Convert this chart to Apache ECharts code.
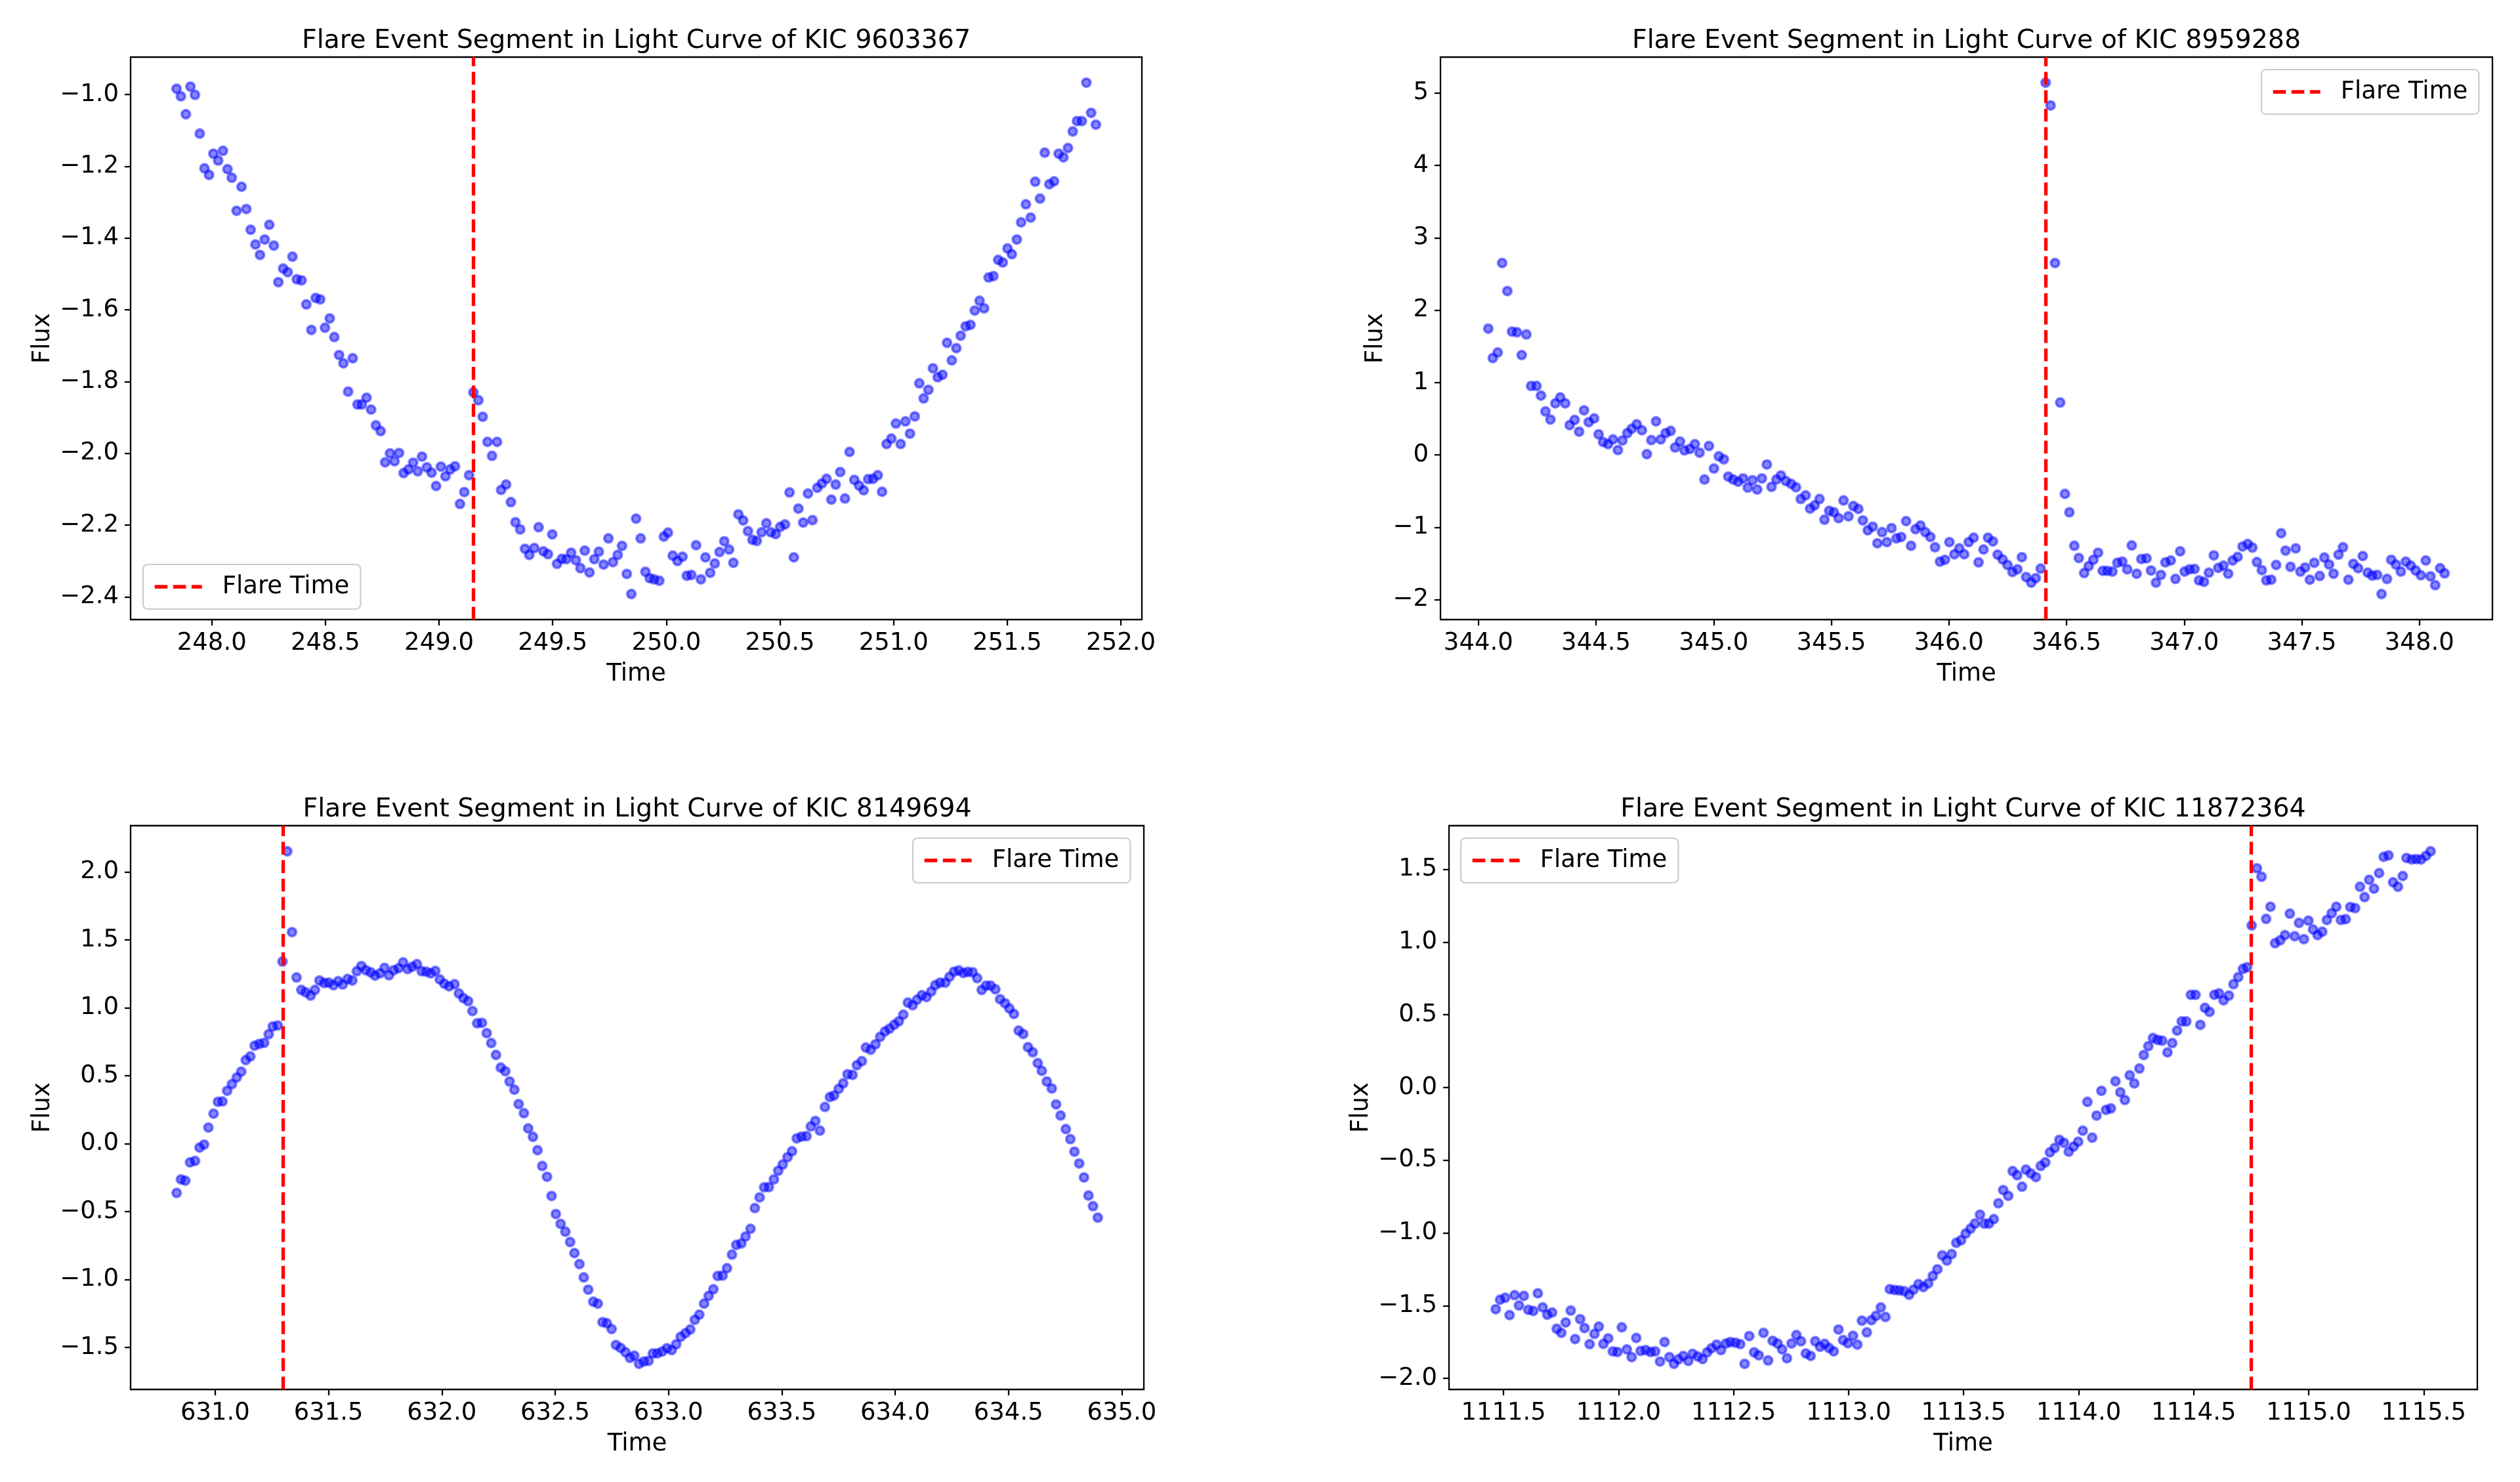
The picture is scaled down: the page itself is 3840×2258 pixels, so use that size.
<!DOCTYPE html>
<html>
<head>
<meta charset="utf-8">
<script src="https://cdn.jsdelivr.net/npm/echarts@6/dist/echarts.min.js"></script>
<style>
html,body{margin:0;padding:0;background:#fff;}
#chart{width:3840px;height:2258px;}
</style>
</head>
<body>
<div id="chart"></div>
<script>
// ---------------- DATA (time, flux) ----------------
const kic9603367 = [
[247.845,-0.984],[247.864,-1.005],[247.886,-1.055],[247.906,-0.978],[247.926,-1.001],[247.947,-1.109],[247.968,-1.206],[247.988,-1.224],[248.007,-1.165],[248.028,-1.184],[248.049,-1.157],[248.069,-1.208],[248.088,-1.232],[248.109,-1.324],[248.131,-1.257],[248.152,-1.319],[248.171,-1.377],[248.192,-1.418],[248.212,-1.447],[248.233,-1.404],[248.253,-1.363],[248.273,-1.421],[248.293,-1.523],[248.314,-1.485],[248.334,-1.495],[248.355,-1.452],[248.374,-1.515],[248.395,-1.518],[248.416,-1.585],[248.438,-1.656],[248.457,-1.567],[248.477,-1.571],[248.498,-1.650],[248.519,-1.624],[248.539,-1.676],[248.560,-1.726],[248.579,-1.749],[248.600,-1.828],[248.620,-1.735],[248.641,-1.864],[248.660,-1.864],[248.681,-1.845],[248.701,-1.878],[248.722,-1.922],[248.743,-1.938],[248.763,-2.025],[248.784,-2.000],[248.804,-2.022],[248.824,-1.999],[248.844,-2.055],[248.865,-2.045],[248.886,-2.026],[248.906,-2.050],[248.925,-2.009],[248.946,-2.039],[248.967,-2.054],[248.987,-2.091],[249.008,-2.037],[249.028,-2.064],[249.049,-2.045],[249.070,-2.036],[249.092,-2.141],[249.111,-2.108],[249.132,-2.061],[249.151,-1.830],[249.173,-1.852],[249.192,-1.898],[249.213,-1.968],[249.233,-2.007],[249.255,-1.968],[249.273,-2.102],[249.295,-2.087],[249.316,-2.136],[249.336,-2.192],[249.357,-2.212],[249.378,-2.266],[249.397,-2.283],[249.419,-2.264],[249.438,-2.206],[249.459,-2.273],[249.479,-2.281],[249.498,-2.226],[249.519,-2.308],[249.540,-2.294],[249.560,-2.295],[249.581,-2.277],[249.602,-2.298],[249.622,-2.320],[249.641,-2.271],[249.662,-2.332],[249.683,-2.295],[249.703,-2.274],[249.724,-2.310],[249.745,-2.237],[249.765,-2.303],[249.786,-2.283],[249.805,-2.258],[249.826,-2.336],[249.846,-2.392],[249.867,-2.182],[249.887,-2.237],[249.908,-2.330],[249.927,-2.348],[249.946,-2.351],
[249.969,-2.355],[249.989,-2.232],[250.007,-2.221],[250.028,-2.285],[250.049,-2.300],[250.071,-2.288],[250.090,-2.341],[250.110,-2.339],[250.131,-2.256],[250.152,-2.351],[250.172,-2.290],[250.193,-2.333],[250.213,-2.307],[250.234,-2.275],[250.255,-2.245],[250.276,-2.268],[250.295,-2.305],[250.317,-2.170],[250.338,-2.187],[250.359,-2.217],[250.379,-2.241],[250.398,-2.244],[250.419,-2.220],[250.440,-2.195],[250.460,-2.220],[250.481,-2.225],[250.501,-2.205],[250.522,-2.198],[250.542,-2.109],[250.561,-2.290],[250.581,-2.154],[250.602,-2.193],[250.623,-2.112],[250.643,-2.186],[250.664,-2.096],[250.684,-2.084],[250.705,-2.071],[250.726,-2.129],[250.745,-2.087],[250.765,-2.052],[250.786,-2.126],[250.806,-1.996],[250.827,-2.074],[250.848,-2.090],[250.868,-2.103],[250.888,-2.072],[250.909,-2.071],[250.930,-2.061],[250.949,-2.107],[250.969,-1.974],[250.990,-1.959],[251.010,-1.917],[251.031,-1.974],[251.052,-1.911],[251.072,-1.945],[251.093,-1.897],[251.113,-1.805],[251.132,-1.847],[251.153,-1.823],[251.173,-1.763],[251.194,-1.788],[251.215,-1.781],[251.235,-1.692],[251.256,-1.741],[251.276,-1.707],[251.295,-1.672],[251.317,-1.646],[251.338,-1.642],[251.357,-1.602],[251.378,-1.575],[251.398,-1.596],[251.418,-1.510],[251.439,-1.506],[251.460,-1.461],[251.480,-1.468],[251.501,-1.429],[251.520,-1.445],[251.542,-1.404],[251.561,-1.356],[251.582,-1.306],[251.603,-1.343],[251.623,-1.243],[251.644,-1.290],[251.665,-1.162],[251.685,-1.250],[251.706,-1.242],[251.726,-1.165],[251.747,-1.175],[251.767,-1.149],[251.788,-1.103],[251.807,-1.074],[251.828,-1.074],[251.848,-0.967],[251.869,-1.051],[251.890,-1.084]
];

const kic8959288 = [
[344.042,1.746],[344.061,1.339],[344.082,1.416],[344.101,2.652],[344.123,2.265],[344.143,1.705],[344.164,1.695],[344.184,1.380],[344.204,1.665],[344.224,0.953],[344.247,0.953],[344.266,0.820],[344.285,0.602],[344.306,0.490],[344.327,0.714],[344.348,0.795],[344.369,0.714],[344.388,0.413],[344.409,0.485],[344.428,0.322],[344.449,0.617],[344.469,0.454],[344.492,0.505],[344.511,0.286],[344.530,0.179],[344.551,0.149],[344.572,0.215],[344.593,0.068],[344.612,0.200],[344.633,0.302],[344.652,0.363],[344.673,0.424],[344.695,0.342],[344.716,0.012],[344.735,0.205],[344.755,0.464],[344.775,0.215],[344.796,0.302],[344.817,0.332],[344.836,0.103],[344.857,0.185],[344.876,0.063],[344.899,0.083],[344.920,0.149],[344.940,0.032],[344.961,-0.339],[344.980,0.124],[345.001,-0.187],[345.022,-0.019],[345.043,-0.060],[345.062,-0.299],[345.083,-0.339],[345.104,-0.370],[345.125,-0.324],[345.145,-0.451],[345.165,-0.349],[345.185,-0.477],[345.205,-0.324],[345.226,-0.131],[345.246,-0.441],[345.267,-0.339],[345.286,-0.283],[345.307,-0.360],[345.330,-0.400],[345.350,-0.446],[345.370,-0.609],[345.391,-0.558],[345.410,-0.741],[345.429,-0.696],[345.450,-0.609],[345.471,-0.894],[345.491,-0.772],[345.511,-0.792],[345.531,-0.873],[345.552,-0.629],[345.573,-0.848],[345.594,-0.706],[345.615,-0.746],[345.634,-0.904],[345.655,-1.041],[345.676,-0.990],[345.696,-1.219],[345.716,-1.067],[345.736,-1.204],[345.756,-1.011],[345.777,-1.153],[345.797,-1.133],[345.818,-0.914],[345.839,-1.255],[345.858,-1.026],[345.879,-0.975],[345.900,-1.067],[345.921,-1.133],[345.941,-1.275],[345.962,-1.474],[345.983,-1.448],[346.002,-1.204],[346.023,-1.372],[346.044,-1.290],[346.065,-1.372],[346.084,-1.204],[346.105,-1.143],[346.126,-1.484],[346.147,-1.306],[346.166,-1.143],[346.187,-1.194],[346.207,-1.377],[346.228,-1.443],[346.249,-1.520],[346.270,-1.616],[346.291,-1.580],[346.310,-1.412],[346.328,-1.687],
[346.350,-1.764],[346.369,-1.702],[346.390,-1.570],[346.411,5.144],[346.432,4.829],[346.451,2.652],[346.473,0.724],[346.493,-0.538],[346.512,-0.792],[346.533,-1.255],[346.552,-1.423],[346.575,-1.631],[346.594,-1.535],[346.614,-1.448],[346.634,-1.351],[346.654,-1.601],[346.673,-1.601],[346.695,-1.611],[346.716,-1.489],[346.737,-1.474],[346.758,-1.580],[346.777,-1.250],[346.798,-1.641],[346.818,-1.438],[346.840,-1.428],[346.859,-1.596],[346.880,-1.764],[346.901,-1.657],[346.920,-1.484],[346.943,-1.458],[346.963,-1.713],[346.983,-1.331],[347.002,-1.611],[347.023,-1.580],[347.044,-1.575],[347.063,-1.733],[347.084,-1.753],[347.105,-1.626],[347.126,-1.387],[347.145,-1.560],[347.167,-1.529],[347.187,-1.641],[347.206,-1.458],[347.227,-1.408],[347.248,-1.265],[347.270,-1.229],[347.290,-1.280],[347.309,-1.479],[347.330,-1.591],[347.349,-1.733],[347.370,-1.723],[347.391,-1.519],[347.412,-1.082],[347.431,-1.321],[347.452,-1.545],[347.474,-1.290],[347.494,-1.611],[347.514,-1.555],[347.534,-1.723],[347.553,-1.489],[347.576,-1.672],[347.596,-1.418],[347.616,-1.514],[347.635,-1.641],[347.656,-1.377],[347.675,-1.275],[347.698,-1.723],[347.719,-1.504],[347.739,-1.565],[347.759,-1.397],[347.780,-1.626],[347.799,-1.667],[347.820,-1.657],[347.839,-1.921],[347.862,-1.713],[347.880,-1.448],[347.900,-1.514],[347.921,-1.611],[347.942,-1.474],[347.963,-1.529],[347.984,-1.596],[348.006,-1.662],[348.027,-1.458],[348.047,-1.677],[348.067,-1.799],[348.088,-1.565],[348.107,-1.636]
];

const kic8149694 = [
[630.830,-0.363],[630.849,-0.263],[630.868,-0.273],[630.889,-0.138],[630.911,-0.127],[630.931,-0.029],[630.951,-0.007],[630.970,0.118],[630.993,0.221],[631.012,0.308],[631.032,0.310],[631.053,0.389],[631.074,0.438],[631.095,0.487],[631.115,0.530],[631.135,0.615],[631.155,0.642],[631.174,0.721],[631.195,0.734],[631.216,0.742],[631.236,0.805],[631.254,0.862],[631.276,0.870],[631.297,1.340],[631.318,2.152],[631.339,1.557],[631.359,1.223],[631.380,1.131],[631.399,1.114],[631.421,1.090],[631.440,1.131],[631.460,1.201],[631.481,1.182],[631.501,1.185],[631.522,1.166],[631.543,1.196],[631.563,1.171],[631.584,1.212],[631.605,1.201],[631.625,1.269],[631.645,1.307],[631.665,1.277],[631.686,1.261],[631.705,1.237],[631.727,1.253],[631.747,1.294],[631.767,1.239],[631.788,1.277],[631.809,1.291],[631.829,1.334],[631.849,1.285],[631.869,1.302],[631.890,1.321],[631.911,1.269],[631.931,1.266],[631.951,1.253],[631.971,1.272],[631.991,1.209],[632.011,1.177],[632.032,1.158],[632.056,1.174],[632.075,1.106],[632.095,1.071],[632.116,1.049],[632.135,0.976],[632.156,0.886],[632.177,0.889],[632.198,0.813],[632.218,0.740],[632.239,0.653],[632.260,0.560],[632.280,0.533],[632.299,0.457],[632.320,0.397],[632.339,0.291],[632.362,0.224],[632.381,0.112],[632.402,0.050],[632.422,-0.048],[632.443,-0.165],[632.464,-0.244],[632.484,-0.385],[632.503,-0.518],[632.524,-0.591],[632.545,-0.648],[632.566,-0.724],[632.585,-0.806],[632.607,-0.887],[632.626,-0.985],[632.646,-1.075],[632.668,-1.164],[632.688,-1.178],[632.709,-1.314],[632.728,-1.322],[632.749,-1.365],[632.768,-1.482],[632.789,-1.504],[632.810,-1.536],[632.830,-1.577],[632.849,-1.561],[632.870,-1.621],[632.891,-1.604],[632.912,-1.599],[632.931,-1.545],
[632.951,-1.544],[632.972,-1.531],[632.993,-1.506],[633.014,-1.520],[633.034,-1.477],[633.054,-1.422],[633.075,-1.395],[633.096,-1.368],[633.116,-1.297],[633.136,-1.259],[633.157,-1.178],[633.177,-1.121],[633.198,-1.072],[633.217,-0.974],[633.239,-0.971],[633.258,-0.917],[633.280,-0.817],[633.299,-0.746],[633.321,-0.735],[633.340,-0.684],[633.362,-0.627],[633.381,-0.474],[633.402,-0.396],[633.422,-0.322],[633.443,-0.320],[633.465,-0.263],[633.484,-0.200],[633.504,-0.154],[633.525,-0.100],[633.545,-0.056],[633.566,0.039],[633.587,0.052],[633.609,0.055],[633.628,0.126],[633.648,0.167],[633.668,0.096],[633.690,0.270],[633.712,0.343],[633.730,0.354],[633.751,0.403],[633.771,0.444],[633.790,0.511],[633.812,0.506],[633.831,0.577],[633.853,0.607],[633.871,0.707],[633.892,0.691],[633.913,0.731],[633.934,0.786],[633.955,0.826],[633.975,0.846],[633.996,0.875],[634.016,0.900],[634.036,0.949],[634.056,1.038],[634.077,1.019],[634.097,1.060],[634.118,1.093],[634.138,1.079],[634.159,1.120],[634.177,1.166],[634.198,1.185],[634.221,1.185],[634.240,1.228],[634.260,1.266],[634.281,1.275],[634.301,1.256],[634.321,1.264],[634.342,1.261],[634.362,1.218],[634.382,1.131],[634.401,1.163],[634.421,1.163],[634.442,1.136],[634.463,1.063],[634.485,1.033],[634.504,0.995],[634.524,0.954],[634.545,0.832],[634.565,0.807],[634.586,0.710],[634.607,0.672],[634.629,0.593],[634.647,0.536],[634.669,0.457],[634.691,0.406],[634.710,0.289],[634.730,0.207],[634.753,0.107],[634.773,0.033],[634.791,-0.059],[634.812,-0.146],[634.833,-0.249],[634.853,-0.382],[634.873,-0.461],[634.894,-0.545]
];

const kic11872364 = [
[1111.466,-1.524],[1111.485,-1.459],[1111.507,-1.446],[1111.526,-1.565],[1111.548,-1.428],[1111.567,-1.499],[1111.588,-1.433],[1111.608,-1.529],[1111.629,-1.537],[1111.649,-1.415],[1111.670,-1.512],[1111.690,-1.562],[1111.711,-1.547],[1111.731,-1.659],[1111.751,-1.687],[1111.770,-1.616],[1111.792,-1.534],[1111.811,-1.730],[1111.833,-1.593],[1111.852,-1.654],[1111.874,-1.765],[1111.895,-1.694],[1111.914,-1.644],[1111.934,-1.763],[1111.955,-1.725],[1111.975,-1.814],[1111.995,-1.819],[1112.014,-1.649],[1112.036,-1.801],[1112.057,-1.854],[1112.077,-1.722],[1112.096,-1.811],[1112.118,-1.806],[1112.139,-1.819],[1112.159,-1.814],[1112.180,-1.884],[1112.200,-1.750],[1112.221,-1.854],[1112.241,-1.900],[1112.260,-1.869],[1112.281,-1.846],[1112.303,-1.880],[1112.322,-1.831],[1112.344,-1.849],[1112.365,-1.867],[1112.385,-1.821],[1112.404,-1.793],[1112.426,-1.768],[1112.445,-1.806],[1112.467,-1.760],[1112.486,-1.750],[1112.508,-1.755],[1112.529,-1.765],[1112.548,-1.900],[1112.568,-1.709],[1112.589,-1.821],[1112.609,-1.841],[1112.630,-1.687],[1112.650,-1.877],[1112.670,-1.742],[1112.691,-1.760],[1112.711,-1.801],[1112.732,-1.862],[1112.752,-1.760],[1112.773,-1.702],[1112.793,-1.745],[1112.814,-1.829],[1112.835,-1.846],[1112.855,-1.745],[1112.876,-1.783],[1112.896,-1.763],[1112.915,-1.791],[1112.935,-1.814],[1112.956,-1.664],[1112.976,-1.737],[1112.997,-1.758],[1113.019,-1.707],[1113.038,-1.768],[1113.058,-1.603],[1113.079,-1.684],[1113.099,-1.600],[1113.119,-1.570],[1113.140,-1.512],[1113.160,-1.578],[1113.179,-1.387],[1113.200,-1.392],[1113.220,-1.395],[1113.241,-1.400],[1113.263,-1.425],[1113.282,-1.390],[1113.304,-1.352],[1113.325,-1.372],[1113.346,-1.347],[1113.366,-1.296],[1113.386,-1.250],[1113.407,-1.154],[1113.427,-1.190],[1113.448,-1.146],[1113.468,-1.068],[1113.489,-1.050],[1113.509,-1.004],[1113.530,-0.971],[1113.549,-0.936],[1113.571,-0.875],[1113.590,-0.936],[1113.610,-0.936],[1113.631,-0.905],[1113.651,-0.796],[1113.672,-0.705],[1113.694,-0.745],[1113.713,-0.575],[1113.733,-0.603],[1113.754,-0.682],[1113.771,-0.565],
[1113.792,-0.591],[1113.814,-0.616],[1113.835,-0.540],[1113.855,-0.515],[1113.875,-0.446],[1113.896,-0.416],[1113.916,-0.360],[1113.936,-0.380],[1113.957,-0.441],[1113.978,-0.406],[1113.998,-0.373],[1114.018,-0.297],[1114.038,-0.099],[1114.059,-0.345],[1114.078,-0.193],[1114.099,-0.023],[1114.119,-0.154],[1114.140,-0.144],[1114.160,0.043],[1114.181,-0.033],[1114.201,-0.086],[1114.222,0.084],[1114.242,0.028],[1114.264,0.130],[1114.283,0.223],[1114.303,0.284],[1114.323,0.340],[1114.343,0.327],[1114.363,0.322],[1114.386,0.241],[1114.407,0.305],[1114.428,0.391],[1114.448,0.454],[1114.468,0.454],[1114.488,0.637],[1114.508,0.637],[1114.529,0.431],[1114.549,0.548],[1114.569,0.520],[1114.590,0.637],[1114.610,0.647],[1114.630,0.599],[1114.653,0.632],[1114.673,0.710],[1114.694,0.759],[1114.714,0.815],[1114.732,0.827],[1114.752,1.114],[1114.775,1.507],[1114.795,1.449],[1114.815,1.159],[1114.834,1.243],[1114.854,0.992],[1114.876,1.012],[1114.897,1.048],[1114.918,1.195],[1114.939,1.040],[1114.958,1.132],[1114.979,1.020],[1114.999,1.147],[1115.019,1.086],[1115.039,1.048],[1115.059,1.071],[1115.079,1.152],[1115.100,1.198],[1115.120,1.243],[1115.140,1.152],[1115.161,1.157],[1115.181,1.241],[1115.202,1.233],[1115.223,1.380],[1115.243,1.309],[1115.263,1.428],[1115.284,1.367],[1115.306,1.474],[1115.326,1.586],[1115.347,1.596],[1115.367,1.411],[1115.388,1.380],[1115.409,1.454],[1115.425,1.578],[1115.448,1.568],[1115.468,1.570],[1115.489,1.568],[1115.510,1.593],[1115.530,1.624]
];

const flareTimes = [249.151, 346.411, 631.297, 1114.752];
const starNames = ['KIC 9603367', 'KIC 8959288', 'KIC 8149694', 'KIC 11872364'];

const xTicks1 = [248.0, 248.5, 249.0, 249.5, 250.0, 250.5, 251.0, 251.5, 252.0];
const yTicks1 = [-2.4, -2.2, -2.0, -1.8, -1.6, -1.4, -1.2, -1.0];
const xTicks2 = [344.0, 344.5, 345.0, 345.5, 346.0, 346.5, 347.0, 347.5, 348.0];
const yTicks2 = [-2, -1, 0, 1, 2, 3, 4, 5];
const xTicks3 = [631.0, 631.5, 632.0, 632.5, 633.0, 633.5, 634.0, 634.5, 635.0];
const yTicks3 = [-1.5, -1.0, -0.5, 0.0, 0.5, 1.0, 1.5, 2.0];
const xTicks4 = [1111.5, 1112.0, 1112.5, 1113.0, 1113.5, 1114.0, 1114.5, 1115.0, 1115.5];
const yTicks4 = [-2.0, -1.5, -1.0, -0.5, 0.0, 0.5, 1.0, 1.5];

// ---------------- LAYOUT / STYLE ----------------
const FONT = 'DejaVu Sans';
const TICK_FS = 37, TITLE_FS = 39.5;
const RED = '#ff0000';
const DASH = [19.6, 8.5];
const panels = [
  {data: kic9603367, flare: flareTimes[0], name: starNames[0], xT: xTicks1, yT: yTicks1, yDec: 1,
   grid: [199, 87, 1541, 857], legend: [218, 860], fluxGap: 115},
  {data: kic8959288, flare: flareTimes[1], name: starNames[1], xT: xTicks2, yT: yTicks2, yDec: 0,
   grid: [2195, 87, 1603, 857], legend: [3446, 106], fluxGap: 80},
  {data: kic8149694, flare: flareTimes[2], name: starNames[2], xT: xTicks3, yT: yTicks3, yDec: 1,
   grid: [199, 1258, 1544, 859], legend: [1391, 1277], fluxGap: 115},
  {data: kic11872364, flare: flareTimes[3], name: starNames[3], xT: xTicks4, yT: yTicks4, yDec: 1,
   grid: [2208, 1258, 1567, 859], legend: [2226, 1277], fluxGap: 115}
];

const fmt = (v, d) => (v < -1e-9 ? '\u2212' : '') + Math.abs(v).toFixed(d);

const option = {
  animation: false,
  backgroundColor: '#ffffff',
  title: [], grid: [], xAxis: [], yAxis: [], series: [], legend: []
};

panels.forEach((p, i) => {
  const xs = p.data.map(d => d[0]), ys = p.data.map(d => d[1]);
  const xmin = Math.min(...xs), xmax = Math.max(...xs);
  const ymin = Math.min(...ys), ymax = Math.max(...ys);
  const xr = xmax - xmin, yr = ymax - ymin;
  const [gl, gt, gw, gh] = p.grid;

  option.grid.push({left: gl, top: gt, width: gw, height: gh, show: true,
    borderColor: '#000', borderWidth: 2.3, backgroundColor: 'rgba(0,0,0,0)'});

  option.title.push({
    text: 'Flare Event Segment in Light Curve of ' + p.name,
    left: gl + gw / 2, top: gt - 44, textAlign: 'center', textVerticalAlign: 'top', padding: 0,
    textStyle: {fontFamily: FONT, fontSize: TITLE_FS, fontWeight: 'normal', color: '#000'}
  });

  option.xAxis.push({
    type: 'value', gridIndex: i,
    min: xmin - 0.05 * xr, max: xmax + 0.05 * xr,
    axisLine: {show: false, onZero: false},
    axisTick: {show: true, length: 9, lineStyle: {color: '#000', width: 2.3}, customValues: p.xT},
    axisLabel: {show: true, customValues: p.xT, formatter: v => fmt(v, 1), margin: 18,
      fontFamily: FONT, fontSize: TICK_FS, color: '#000'},
    splitLine: {show: false},
    name: 'Time', nameLocation: 'middle', nameGap: 65,
    nameTextStyle: {fontFamily: FONT, fontSize: TICK_FS, color: '#000'}
  });

  option.yAxis.push({
    type: 'value', gridIndex: i,
    min: ymin - 0.05 * yr, max: ymax + 0.05 * yr,
    axisLine: {show: false, onZero: false},
    axisTick: {show: true, length: 9, lineStyle: {color: '#000', width: 2.3}, customValues: p.yT},
    axisLabel: {show: true, customValues: p.yT, formatter: v => fmt(v, p.yDec), margin: 18,
      fontFamily: FONT, fontSize: TICK_FS, color: '#000'},
    splitLine: {show: false},
    name: 'Flux', nameLocation: 'middle', nameGap: p.fluxGap,
    nameTextStyle: {fontFamily: FONT, fontSize: TICK_FS, color: '#000'}
  });

  option.series.push({
    type: 'scatter', name: 'Data', xAxisIndex: i, yAxisIndex: i,
    data: p.data, symbol: 'circle', symbolSize: 12.5,
    itemStyle: {color: 'rgba(0,0,255,0.6)', borderColor: 'rgba(0,0,255,0.6)', borderWidth: 4},
    emphasis: {disabled: true}, silent: true, z: 2
  });

  option.series.push({
    type: 'line', name: 'Flare Time', xAxisIndex: i, yAxisIndex: i,
    data: [], symbol: 'none', showSymbol: false, silent: true, z: 3,
    lineStyle: {color: RED, width: 5.3, type: DASH},
    itemStyle: {color: RED},
    markLine: {
      silent: true, symbol: ['none', 'none'], label: {show: false},
      lineStyle: {color: RED, width: 5.3, type: DASH},
      emphasis: {disabled: true},
      data: [{xAxis: p.flare}]
    }
  });

  option.legend.push({
    show: true, data: [{name: 'Flare Time', itemStyle: {opacity: 0, borderWidth: 0}}], selectedMode: false,
    left: p.legend[0], top: p.legend[1], orient: 'horizontal',
    itemWidth: 72, itemHeight: 14, itemGap: 0,
    padding: [14, 17, 14, 15],
    backgroundColor: 'rgba(255,255,255,0.8)', borderColor: '#cccccc', borderWidth: 2.2, borderRadius: 7,
    itemStyle: {opacity: 0, borderWidth: 0},
    lineStyle: {color: RED, width: 5.3, type: DASH, opacity: 1},
    textStyle: {fontFamily: FONT, fontSize: TICK_FS, color: '#000', lineHeight: 40, padding: [0, 0, 0, 26]}
  });
});

const chart = echarts.init(document.getElementById('chart'), null, {renderer: 'canvas'});
chart.setOption(option);
</script>
</body>
</html>
